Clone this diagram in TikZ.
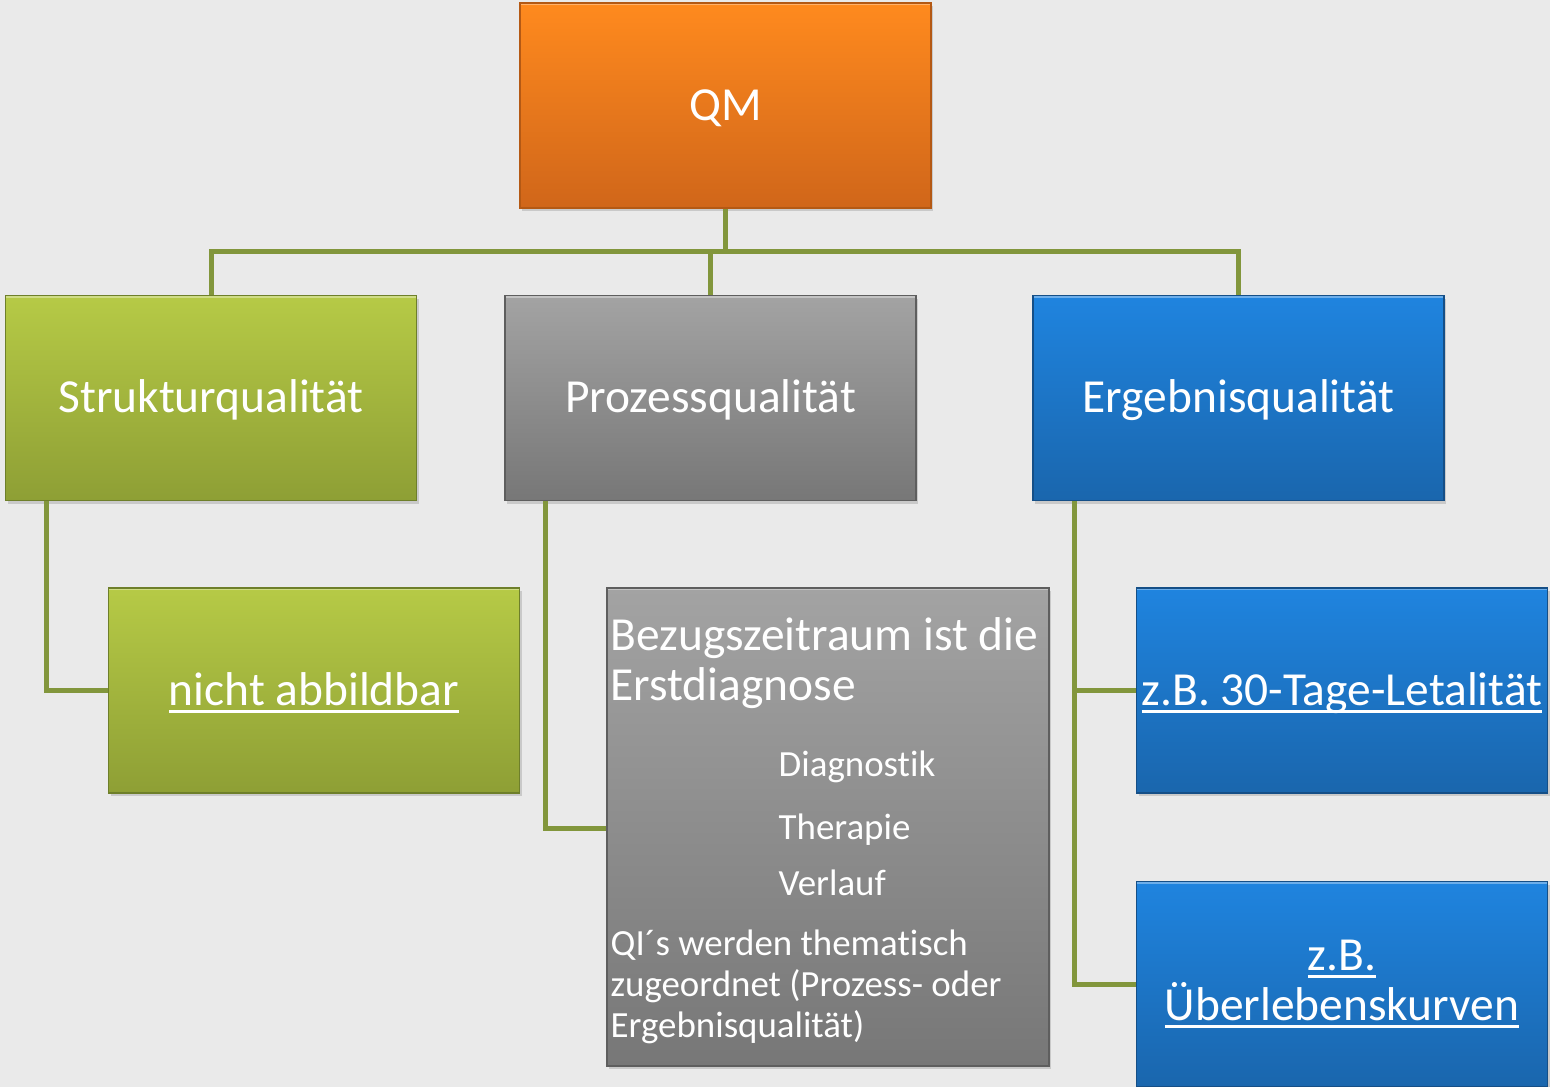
\documentclass[tikz,border=0pt]{standalone}
\usepackage{fontspec}
\setmainfont{Carlito}[Ligatures=NoCommon, Contextuals=NoAlternate]
\usetikzlibrary{shadows}
% Unterstreichung wie im Original (fester Abstand zur Grundlinie)
\newcommand{\unterstr}[1]{\leavevmode\setbox0\hbox{#1}\rlap{\rule[-4.2pt]{\wd0}{1.5pt}}\box0}
\definecolor{hgrund}{HTML}{EAEAEA}
\definecolor{linie}{HTML}{82963C}
\definecolor{qmoben}{HTML}{FF8A1E}
\definecolor{qmunten}{HTML}{D0661A}
\definecolor{qmrand}{HTML}{B45914}
\definecolor{gruenoben}{HTML}{B6CA46}
\definecolor{gruenunten}{HTML}{8E9F35}
\definecolor{gruenrand}{HTML}{6E7F2A}
\definecolor{grauoben}{HTML}{A3A3A3}
\definecolor{grauunten}{HTML}{777777}
\definecolor{graurand}{HTML}{5E5E5E}
\definecolor{blauoben}{HTML}{1F84DF}
\definecolor{blauunten}{HTML}{1A66AD}
\definecolor{blaurand}{HTML}{154F87}

\begin{document}
\begin{tikzpicture}[x=0.02cm, y=-0.02cm,
    every node/.style={text=white, inner sep=0pt},
    kasten/.style={rectangle, minimum width=8.22cm, minimum height=4.1cm,
        line width=0.8pt, align=center,
        font=\fontsize{27}{28.5}\selectfont,
        drop shadow={shadow xshift=1.2pt, shadow yshift=-1.8pt, opacity=.3},
        path picture={\draw[white, opacity=.35, line width=2.5pt]
            (path picture bounding box.north west) -- (path picture bounding box.north east);}},
    einzeilig/.style={text height=22pt, text depth=5pt},
    qmbox/.style={top color=qmoben, bottom color=qmunten, draw=qmrand},
    strukturbox/.style={top color=gruenoben, bottom color=gruenunten, draw=gruenrand},
    prozessbox/.style={top color=grauoben, bottom color=grauunten, draw=graurand},
    ergebnisbox/.style={top color=blauoben, bottom color=blauunten, draw=blaurand},
    klein/.style={font=\fontsize{21}{23.3}\selectfont},
    link/.style={draw=linie, line width=0.1cm}]

    % Hintergrund und Bildgrenzen
    \fill[hgrund] (0,0) rectangle (1550,1087);
    \useasboundingbox (0,0) rectangle (1550,1087);

    % obere Ebenen
    \node[kasten, einzeilig, qmbox] (qm) at (725.5,105.5) {QM};
    \node[kasten, einzeilig, strukturbox] (struktur) at (211,398) {Strukturqualität};
    \node[kasten, einzeilig, prozessbox] (prozess) at (710.5,398) {Prozessqualität};
    \node[kasten, einzeilig, ergebnisbox] (ergebnis) at (1238.5,398) {Ergebnisqualität};

    % untere Ebene
    \node[kasten, einzeilig, strukturbox] (nicht) at (314,690.5) {\unterstr{nicht abbildbar}};
    \node[kasten, prozessbox, minimum width=8.84cm, minimum height=9.56cm] (bezug) at (828,827) {};
    \node[kasten, einzeilig, ergebnisbox] (letal) at (1342,690.5) {\unterstr{z.B. 30-Tage-Letalität}};
    \node[kasten, ergebnisbox] (kurven) at (1342,984) {\unterstr{z.B.}\\\unterstr{Überlebenskurven}};

    % Text im grauen Kasten
    \node[anchor=north west, align=left, font=\fontsize{27}{28.5}\selectfont] (bezugkopf)
        at ([shift={(4,30)}]bezug.north west) {Bezugszeitraum ist die\\Erstdiagnose};
    \node[klein, anchor=base west] (diag) at ([shift={(172,189)}]bezug.north west) {Diagnostik};
    \node[klein, anchor=base west] (thera) at ([shift={(172,252)}]bezug.north west) {Therapie};
    \node[klein, anchor=base west] (verlauf) at ([shift={(172,308)}]bezug.north west) {Verlauf};
    \node[klein, anchor=north west, align=left] (qis) at ([shift={(4,342)}]bezug.north west)
        {QI´s werden thematisch\\zugeordnet (Prozess- oder\\Ergebnisqualität)};

    % Verbindungen
    \coordinate (bus) at (725.5,252);
    \draw[link] (qm.south) -- (bus);
    \draw[link] (bus) -| (struktur.north);
    \draw[link] (bus) -| (prozess.north);
    \draw[link] (bus) -| (ergebnis.north);
    \draw[link] ([xshift=0.84cm]struktur.south west) |- (nicht.west);
    \draw[link] ([xshift=0.82cm]prozess.south west) |- (bezug.west |- 0,828);
    \draw[link] ([xshift=0.84cm]ergebnis.south west) |- (letal.west);
    \draw[link] ([xshift=0.84cm]ergebnis.south west) |- (kurven.west);
\end{tikzpicture}
\end{document}
